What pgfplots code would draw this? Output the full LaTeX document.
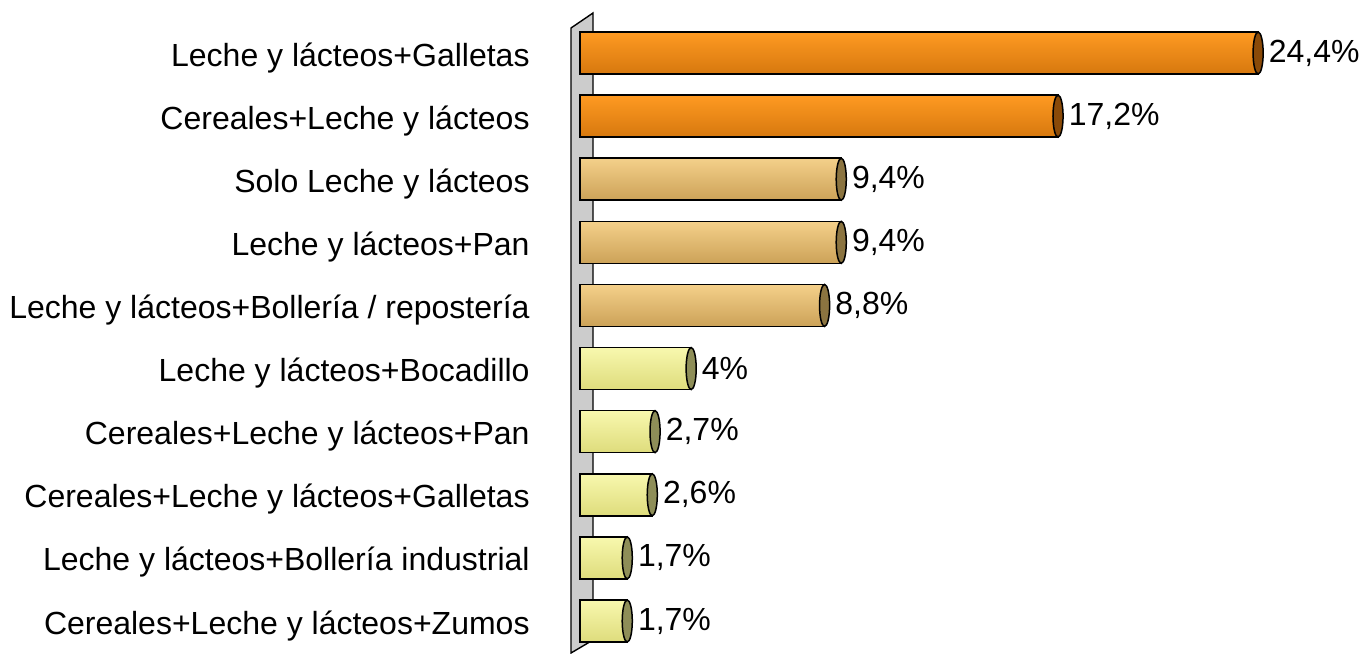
\documentclass[border=0pt]{standalone}
\usepackage{pgfplots}
\pgfplotsset{compat=1.18}
\usepackage{fontspec}
\setmainfont{Liberation Sans}
\definecolor{oTop}{HTML}{FF9A22}
\definecolor{oBot}{HTML}{D6780E}
\definecolor{oCap}{HTML}{8A4A08}
\definecolor{tTop}{HTML}{F4D08A}
\definecolor{tBot}{HTML}{CCA258}
\definecolor{tCap}{HTML}{8B7440}
\definecolor{yTop}{HTML}{F8F8AE}
\definecolor{yBot}{HTML}{DEDC7C}
\definecolor{yCap}{HTML}{8E8E58}
\definecolor{wall}{HTML}{CCCCCC}
\pgfplotsset{set layers,
  barbase/.style={xbar, bar shift=0pt, draw=black, line width=0.75pt, nodes near coords},
  obarst/.style={barbase, top color=oTop, bottom color=oBot},
  tbarst/.style={barbase, top color=tTop, bottom color=tBot},
  lbarst/.style={barbase, top color=yTop, bottom color=yBot},
  capst/.style={only marks, mark=*, mark size=10.5pt,
    mark options={xscale=0.24, fill=#1, draw=black, line width=0.75pt}},
}
\begin{document}
\begin{tikzpicture}
\begin{axis}[
  at={(284.5pt,0pt)}, anchor=south west,
  scale only axis, width=395pt, height=326.5pt,
  xmin=-0.396, xmax=28.03, ymin=-0.507, ymax=9.84,
  axis line style={draw=none},
  xtick=\empty,
  ytick={0,1,2,3,4,5,6,7,8,9},
  major tick length=0pt,
  yticklabels={Cereales+Leche y lácteos+Zumos,
    Leche y lácteos+Bollería industrial,
    Cereales+Leche y lácteos+Galletas,
    Cereales+Leche y lácteos+Pan,
    Leche y lácteos+Bocadillo,
    Leche y lácteos+Bollería / repostería,
    Leche y lácteos+Pan,
    Solo Leche y lácteos,
    Cereales+Leche y lácteos,
    Leche y lácteos+Galletas},
  yticklabel style={anchor=base east, inner sep=0pt, xshift=-19.5pt, yshift=-6.5pt,
    font=\fontsize{16}{19}\selectfont},
  clip=false,
  bar width=21pt,
  point meta=explicit symbolic,
  every node near coord/.append style={anchor=west, inner sep=0pt, xshift=5pt,
    font=\fontsize{16}{19}\selectfont, text=black},
]
\begin{pgfonlayer}{axis background}
\filldraw[fill=wall, draw=black, line width=0.7pt]
  (axis cs:-0.324,-0.507) -- (axis cs:-0.324,9.396) -- (axis cs:0.468,9.634)
  -- (axis cs:0.468,-0.301) -- cycle;
\end{pgfonlayer}
\addplot[obarst] coordinates {(24.4,9) [24,4\%]};
\addplot[obarst] coordinates {(17.2,8) [17,2\%]};
\addplot[tbarst] coordinates {(9.4,7) [9,4\%]};
\addplot[tbarst] coordinates {(9.4,6) [9,4\%]};
\addplot[tbarst] coordinates {(8.8,5) [8,8\%]};
\addplot[lbarst] coordinates {(4,4) [4\%]};
\addplot[lbarst] coordinates {(2.7,3) [2,7\%]};
\addplot[lbarst] coordinates {(2.6,2) [2,6\%]};
\addplot[lbarst] coordinates {(1.7,1) [1,7\%]};
\addplot[lbarst] coordinates {(1.7,0) [1,7\%]};
\addplot[capst=oCap] coordinates {(24.4,9) (17.2,8)};
\addplot[capst=tCap] coordinates {(9.4,7) (9.4,6) (8.8,5)};
\addplot[capst=yCap] coordinates {(4,4) (2.7,3) (2.6,2) (1.7,1) (1.7,0)};
\end{axis}
\pgfresetboundingbox
\path (0,0) rectangle (679.5pt,326.5pt);
\end{tikzpicture}
\end{document}
